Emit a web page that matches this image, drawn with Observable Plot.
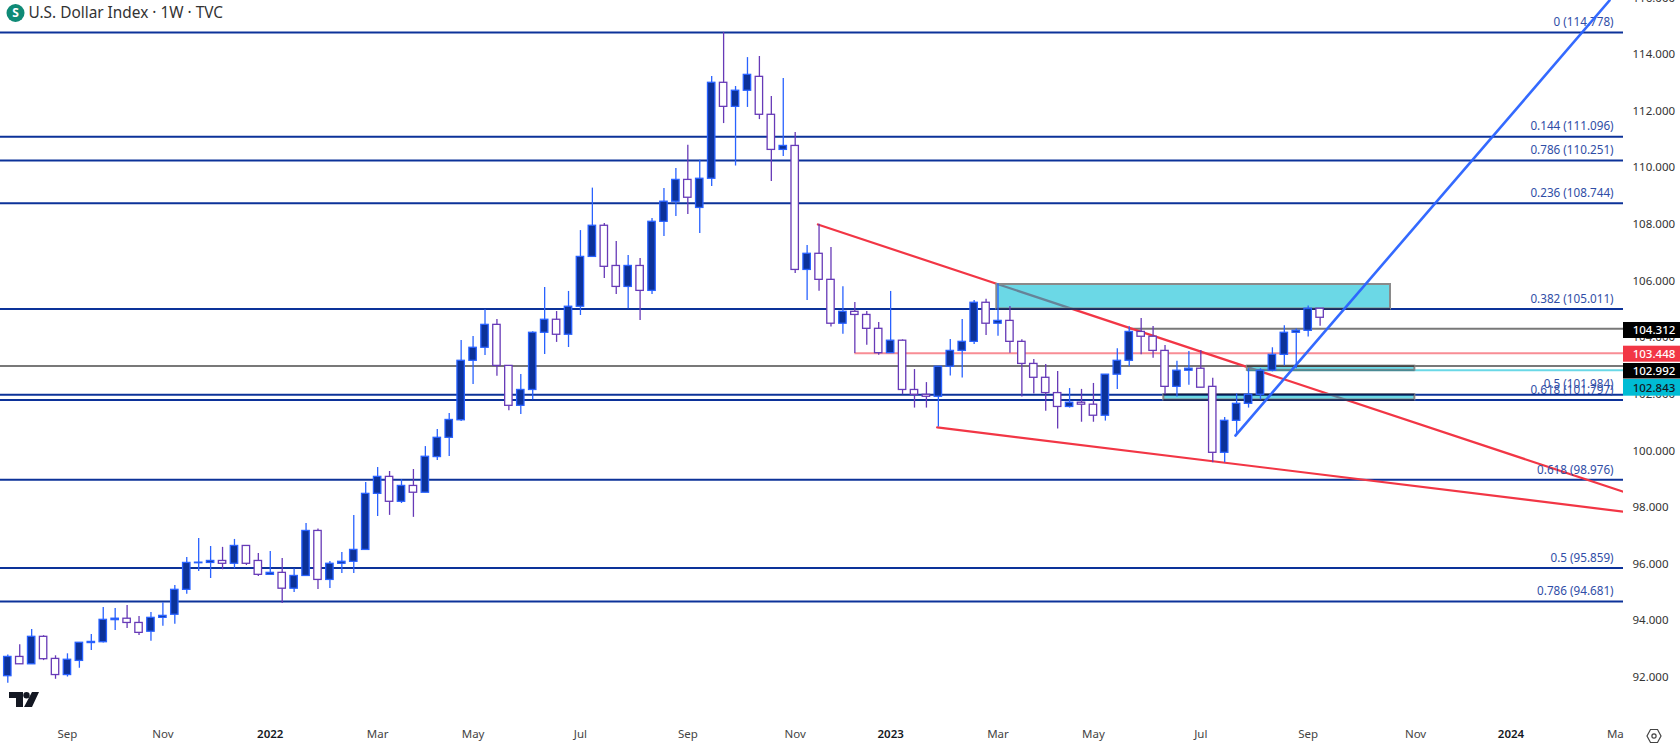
<!DOCTYPE html>
<html><head><meta charset="utf-8">
<script src="https://cdn.jsdelivr.net/npm/d3@7"></script>
<script src="https://cdn.jsdelivr.net/npm/@observablehq/plot@0.6"></script>
<style>
html,body{margin:0;padding:0;background:#fff;overflow:hidden;width:1680px;height:747px}
#wrap{position:relative;width:1680px;height:747px}
#wrap svg.deco{position:absolute}
</style></head><body><div id="wrap"></div>
<script>
const firstWeek = Date.UTC(2021, 7, 2);
const opens = [92.04,92.72,92.46,93.43,92.65,92.08,92.58,93.21,93.24,94.02,
94.07,93.92,93.61,94.10,94.21,95.09,96.03,96.04,96.11,96.01,
96.64,96.11,95.62,95.69,95.13,95.58,97.17,95.44,96.01,96.08,
96.50,98.48,99.08,98.20,98.76,98.52,99.78,100.46,101.08,103.18,
103.64,104.45,103.00,101.59,102.15,104.17,104.63,104.10,105.09,106.85,
107.95,106.53,105.79,106.53,105.65,108.09,108.80,109.57,108.58,109.61,
113.00,112.15,112.72,113.21,111.87,110.63,110.77,106.39,106.96,106.04,
104.49,104.91,104.80,104.31,103.45,103.89,102.15,101.98,101.91,102.97,
103.53,103.85,105.23,104.49,104.59,103.85,103.07,102.58,102.04,101.55,
101.70,101.63,101.24,102.69,103.18,104.20,104.03,103.53,102.26,102.83,
102.90,102.26,99.93,101.06,101.66,101.98,102.83,103.39,104.17,104.24,
105.02];
const highs = [92.79,93.15,93.69,93.47,92.76,92.83,93.22,93.51,94.47,94.43,
94.54,94.15,94.29,94.63,95.24,96.23,96.90,96.62,96.59,96.87,
96.64,96.37,96.44,96.20,95.83,97.43,97.24,96.09,96.41,97.72,
98.88,99.41,99.27,98.98,99.34,100.15,100.75,101.32,103.90,104.04,
104.98,104.64,103.00,102.70,104.21,105.77,104.92,105.63,107.78,109.28,
108.03,107.39,106.90,106.79,108.21,109.27,109.97,110.79,110.26,113.22,
114.78,112.87,113.89,113.93,112.52,113.15,111.24,107.25,108.00,107.18,
105.80,105.24,104.92,104.53,105.63,103.92,102.87,102.41,102.97,103.93,
104.64,105.31,105.35,105.90,105.10,103.92,103.23,103.05,102.80,102.20,
102.17,102.38,102.69,103.61,104.38,104.67,104.39,103.72,103.16,103.51,
103.54,102.56,101.18,102.01,102.90,102.90,103.64,104.42,104.31,105.12,
105.02];
const lows = [91.79,92.46,92.46,92.59,91.93,92.01,92.32,92.95,93.21,93.65,
93.72,93.48,93.27,93.80,93.87,94.93,95.74,95.49,95.80,95.83,
95.95,95.56,95.62,94.61,95.00,95.58,95.10,95.14,95.67,95.67,
96.50,97.68,97.72,98.14,97.65,98.52,99.66,99.80,101.04,102.34,
103.37,102.63,101.42,101.28,101.80,103.40,103.83,103.65,104.78,106.85,
106.09,105.52,105.02,104.60,105.52,107.57,108.28,108.35,107.68,109.34,
111.56,110.06,112.13,111.70,109.51,110.40,106.26,105.31,105.64,104.37,
104.12,103.44,103.73,103.38,103.45,101.98,101.51,101.51,100.84,102.64,
102.57,103.76,104.07,104.05,103.45,101.90,102.01,101.40,100.77,101.51,
101.01,101.01,101.05,102.17,102.97,103.39,103.27,101.98,101.90,102.32,
102.23,99.58,99.58,100.60,101.51,101.80,102.79,103.00,102.90,104.02,
104.40];
const closes = [92.72,92.46,93.43,92.64,92.08,92.62,93.22,93.25,94.03,94.07,
93.92,93.57,94.10,94.17,95.09,96.04,96.05,96.11,96.01,96.64,
96.01,95.62,95.69,95.13,95.58,97.17,95.44,96.01,96.08,96.50,
98.48,99.08,98.20,98.76,98.52,99.79,100.46,101.09,103.18,103.64,
104.45,103.00,101.59,102.15,104.17,104.63,104.10,105.09,106.85,107.95,
106.50,105.79,106.53,105.65,108.09,108.80,109.57,108.94,109.61,113.00,
112.15,112.72,113.28,111.87,110.63,110.77,106.39,106.96,106.04,104.49,
104.91,104.80,104.31,103.45,103.89,102.15,101.98,101.91,102.97,103.53,
103.85,105.23,104.49,104.59,103.85,103.07,102.58,102.04,101.55,101.70,
101.63,101.24,102.69,103.18,104.20,104.03,103.53,102.26,102.83,102.90,
102.23,99.93,101.06,101.66,101.98,102.83,103.39,104.17,104.24,105.02,
104.70];

const fibLevels = [114.778,111.096,110.251,108.744,105.011,101.984,101.797,98.976,95.859,94.681];
const fibLabels = ["0 (114.778)","0.144 (111.096)","0.786 (110.251)","0.236 (108.744)","0.382 (105.011)","0.5 (101.984)","0.618 (101.797)","0.618 (98.976)","0.5 (95.859)","0.786 (94.681)"];

const priceTicks = [92,94,96,98,100,102,104,106,108,110,112,114,116];
const monthTickDates = ["2021-09-06","2021-11-01","2022-03-07","2022-05-02","2022-07-04","2022-09-05","2022-11-07","2023-03-06","2023-05-01","2023-07-03","2023-09-04","2023-11-06"];
const monthTickLabels = ["Sep","Nov","Mar","May","Jul","Sep","Nov","Mar","May","Jul","Sep","Nov"];
const yearTickDates = ["2022-01-03","2023-01-02","2024-01-01"];
const yearTickLabels = ["2022","2023","2024"];

const redUpperWeeks = [67.9,135.43], redUpperValues = [107.995,98.55];
const redLowerWeeks = [77.9,135.43], redLowerValues = [100.83,97.85];
const blueWeeks = [102.9,134.26], blueValues = [100.54,115.907];

const zoneFrom = [82.9,103.9,96.9], zoneTo = [115.9,117.94,117.94];
const zoneLow = [105.011,102.843,101.797], zoneHigh = [105.875,102.992,101.984];
const edgeValues = [105.011,101.984,101.797,102.992,102.843];
const edgeFrom = [82.9,96.9,96.9,103.9,103.9];
const edgeTo = [115.9,117.94,117.94,117.94,117.94];
const edgeColors = ["#0a1a52","#0a1a52","#0a1a52","#444444","#4a8a94"];

const levelValues = [104.312,103.448,102.843];
const levelFrom = [94,71,117.9];
const levelColors = ["#787878","#f88d95","#6ad8e6"];

const tagLabels = ["104.312","103.448","102.992","102.843"];
const tagHigh = [104.533,103.696,103.085,102.52];
const tagLow = [103.968,103.131,102.537,101.93];
const tagFills = ["#000000","#f23645","#000000","#00bcd4"];
const tagText = ["#ffffff","#ffffff","#ffffff","#131722"];

const at = i => new Date(firstWeek + i * 7 * 864e5);
const iso = s => new Date(s + "T00:00:00Z");
const lookup = (dates, labels) => d => labels[dates.indexOf(d.toISOString().slice(0,10))];
const NAVY = "#0c3299", BLUE = "#2962ff", PURPLE = "#673ab7", RED = "#f23645";
const FONT = '"Noto Sans", sans-serif';

const candles = opens.map((o, i) => ({t: at(i), t1: at(i - 0.31), t2: at(i + 0.31), o, h: highs[i], l: lows[i], c: closes[i], up: closes[i] >= o}));
const fibs = fibLevels.map((v, i) => ({v, label: fibLabels[i]}));
const segment = (ws, vs) => ws.map((w, i) => ({t: at(w), v: vs[i]}));
const zones = zoneFrom.map((f, i) => ({x1: at(f), x2: at(zoneTo[i]), y1: zoneLow[i], y2: zoneHigh[i]}));
const edges = edgeValues.map((v, i) => ({v, x1: at(edgeFrom[i]), x2: at(edgeTo[i]), c: edgeColors[i]}));
const levels = levelValues.map((v, i) => ({v, x1: at(levelFrom[i]), x2: at(135.43), c: levelColors[i]}));
const tags = tagLabels.map((label, i) => ({label, x1: at(135.43), x2: at(140.3), xt: at(136.2), y1: tagLow[i], y2: tagHigh[i], ym: (tagLow[i] + tagHigh[i]) / 2, f: tagFills[i], t: tagText[i]}));

const chart = Plot.plot({
  width: 1680, height: 747,
  marginTop: 0, marginRight: 57, marginBottom: 29, marginLeft: 0,
  style: {background: "#fff", fontFamily: FONT, overflow: "hidden"},
  color: {type: "identity"},
  x: {type: "utc", domain: [at(-0.612), at(135.43)]},
  y: {domain: [90.545, 115.907]},
  marks: [
    Plot.ruleY(fibs, {y: "v", stroke: NAVY, strokeWidth: 2}),
    Plot.ruleY([102.992], {stroke: "#787878", strokeWidth: 2}),
    Plot.ruleY(levels, {y: "v", x1: "x1", x2: "x2", stroke: "c", strokeWidth: 2}),
    Plot.line(segment(redUpperWeeks, redUpperValues), {x: "t", y: "v", stroke: RED, strokeWidth: 2.2, clip: true}),
    Plot.line(segment(redLowerWeeks, redLowerValues), {x: "t", y: "v", stroke: RED, strokeWidth: 2.2, clip: true}),
    Plot.text(fibs, {x: () => at(134.6), y: "v", text: "label", textAnchor: "end", dy: -10, fill: "#2f4da6", fontSize: 11.7}),
    Plot.rect(zones, {x1: "x1", x2: "x2", y1: "y1", y2: "y2", fill: "#00bcd4", fillOpacity: 0.58, stroke: "#8a8a8a", strokeWidth: 2}),
    Plot.ruleY(edges, {y: "v", x1: "x1", x2: "x2", stroke: "c", strokeWidth: 1.6}),
    Plot.line(segment(blueWeeks, blueValues), {x: "t", y: "v", stroke: BLUE, strokeWidth: 2.6, clip: true, strokeOpacity: 0.95}),
    Plot.ruleX(candles, {x: "t", y1: "l", y2: "h", stroke: d => d.up ? BLUE : PURPLE, strokeWidth: 1.3}),
    Plot.rect(candles, {x1: "t1", x2: "t2", y1: "o", y2: "c", fill: d => d.up ? NAVY : "#ffffff", stroke: d => d.up ? BLUE : PURPLE, strokeWidth: 1.3}),
    Plot.axisY(priceTicks, {anchor: "right", tickSize: 0, tickPadding: 9, tickFormat: d => d.toFixed(3), fill: "#333", fontSize: 11.5, label: null}),
    Plot.axisX(monthTickDates.map(iso), {anchor: "bottom", tickSize: 0, tickPadding: 11, tickFormat: lookup(monthTickDates, monthTickLabels), fill: "#444", fontSize: 11.5, label: null}),
    Plot.axisX(yearTickDates.map(iso), {anchor: "bottom", tickSize: 0, tickPadding: 11, tickFormat: lookup(yearTickDates, yearTickLabels), fill: "#131722", fontSize: 11.5, fontWeight: 600, label: null}),
    Plot.axisX([iso("2024-03-04")], {anchor: "bottom", tickSize: 0, tickPadding: 11, tickFormat: () => "Ma", dx: -3, fill: "#444", fontSize: 11.5, label: null}),
    Plot.rect(tags, {x1: "x1", x2: "x2", y1: "y1", y2: "y2", fill: "f"}),
    Plot.text(tags, {x: "xt", y: "ym", text: "label", fill: "t", textAnchor: "start", fontSize: 11.5, fontWeight: 500}),
    Plot.dot(["logo"], {frameAnchor: "top-left", dx: 15, dy: 12.5, r: 9, fill: "#0f8a76"}),
    Plot.text(["S"], {frameAnchor: "top-left", dx: 15, dy: 12.5, lineAnchor: "middle", textAnchor: "middle", fill: "#fff", fontSize: 12, fontWeight: 700}),
    Plot.text(["U.S. Dollar Index · 1W · TVC"], {frameAnchor: "top-left", dx: 28, dy: 12.5, lineAnchor: "middle", textAnchor: "start", fill: "#333", fontSize: 15.4})
  ]
});
const wrap = document.getElementById("wrap");
wrap.appendChild(chart);
wrap.insertAdjacentHTML("beforeend",
 `<svg class="deco" style="left:9px;top:692px" width="31" height="16" viewBox="0 0 31 16">
   <path d="M0 0H14V15H7V6H0Z" fill="#131722"/><circle cx="17.5" cy="3.2" r="3.2" fill="#131722"/>
   <path d="M23 0H30L23 15H15Z" fill="#131722"/></svg>
  <svg class="deco" style="left:1645px;top:727px" width="18" height="18" viewBox="0 0 18 18">
   <path d="M5.5 2.5H12.5L16 9L12.5 15.5H5.5L2 9Z" fill="none" stroke="#444" stroke-width="1.2"/>
   <circle cx="9" cy="9" r="2.1" fill="none" stroke="#444" stroke-width="1.2"/></svg>`);
</script></body></html>
